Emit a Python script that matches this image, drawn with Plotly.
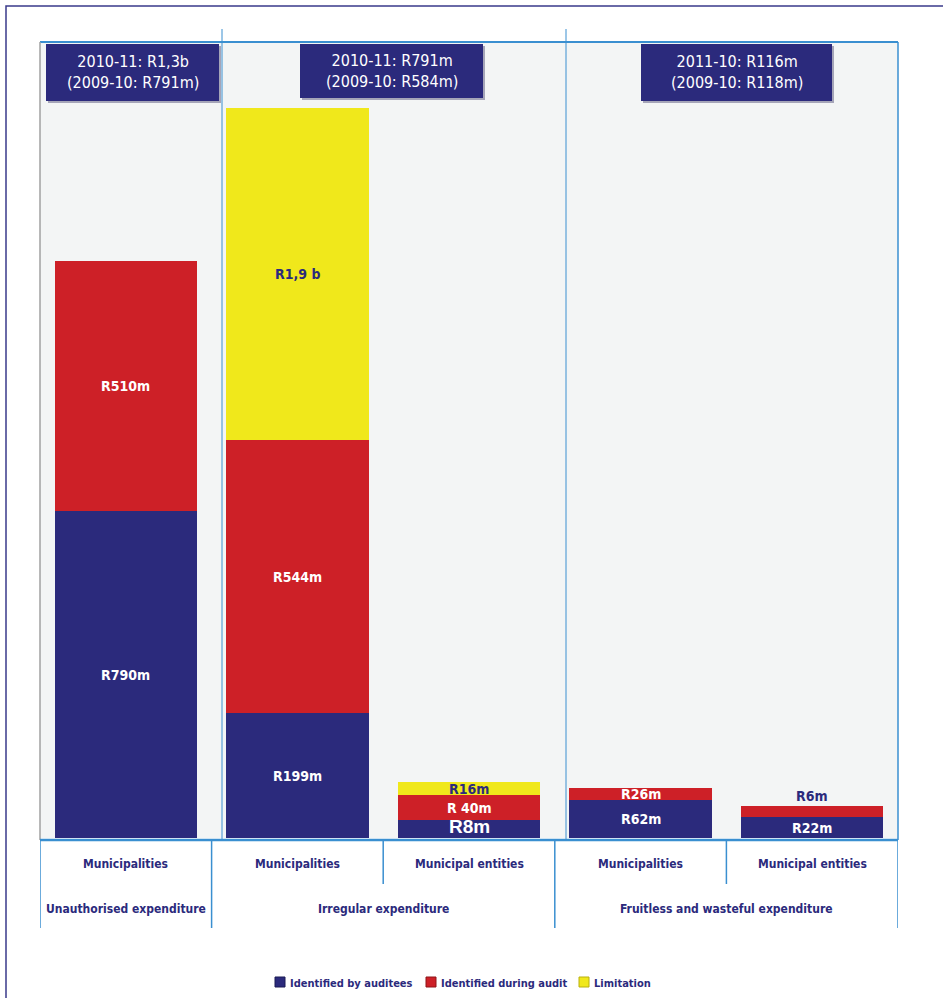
import plotly.graph_objects as go

# ---- data ----
group_labels = ["Unauthorised expenditure", "Irregular expenditure", "Fruitless and wasteful expenditure"]
group_centers = [0, 1.5, 3.5]
sub_labels = ["Municipalities", "Municipalities", "Municipal entities", "Municipalities", "Municipal entities"]
# segment heights as drawn in the picture (chart is not to scale)
auditees = [327, 125, 18, 38, 21]
during_audit = [250, 273, 25, 12, 11]
limitation = [0, 332, 13, 0, 0]
auditees_text = ["R790m", "R199m", "R8m", "R62m", "R22m"]
audit_text = ["R510m", "R544m", "R 40m", "R26m", "R6m"]
limitation_text = ["", "R1,9 b", "R16m", "", ""]
header_text = ["2010-11: R1,3b<br>(2009-10: R791m)",
               "2010-11: R791m<br>(2009-10: R584m)",
               "2011-10: R116m<br>(2009-10: R118m)"]
series_names = ["Identified by auditees", "Identified during audit", "Limitation"]

NAVY = "#2b2a7c"
RED = "#cd2027"
YELLOW = "#f0e81b"
LBLUE = "#3a8fd0"
FONT = "DejaVu Sans Condensed, sans-serif"
colors = [NAVY, RED, YELLOW]
edge_colors = ["#1b1a55", "#8e1418", "#b9b010"]

W, H = 943, 998
L, R, T, B = 40, 898, 42, 838


def px(x):
    return (x - L) / (R - L)


def py(y):
    return (B - y) / (B - T)


xs = list(range(len(sub_labels)))
fig = go.Figure()
for vals, name, col in zip([auditees, during_audit, limitation], series_names, colors):
    fig.add_bar(x=xs, y=vals, name=name, marker=dict(color=col, line=dict(width=0)),
                width=0.83, hoverinfo="skip", showlegend=False)

ann = []
# bar labels
for i in xs:
    b0 = 0
    segs = [(auditees[i], auditees_text[i], "white"),
            (during_audit[i], audit_text[i], "white"),
            (limitation[i], limitation_text[i], NAVY)]
    for k, (h, t, c) in enumerate(segs):
        if t:
            yv = b0 + h / 2
            col = c
            size = 14
            fam = FONT
            if k == 1 and h < 12:
                # label sits above a thin top segment
                yv = b0 + h + 10
                col = NAVY
            if t == "R8m":
                size = 19
                fam = "Liberation Sans, Arial, sans-serif"
                yv = b0 + h / 2 + 3
            ann.append(dict(x=i, y=yv, xref="x", yref="y", text="<b>%s</b>" % t, showarrow=False,
                            xanchor="center", yanchor="middle",
                            font=dict(color=col, size=size, family=fam)))
        b0 += h

# category labels
for i, t in enumerate(sub_labels):
    ann.append(dict(x=i, y=py(864), xref="x", yref="paper", text="<b>%s</b>" % t, showarrow=False,
                    xanchor="center", yanchor="middle",
                    font=dict(color=NAVY, size=12, family=FONT)))
for c, t in zip(group_centers, group_labels):
    ann.append(dict(x=c, y=py(909), xref="x", yref="paper", text="<b>%s</b>" % t, showarrow=False,
                    xanchor="center", yanchor="middle",
                    font=dict(color=NAVY, size=12, family=FONT)))

shapes = []
# header boxes
boxes = [(46, 44, 219, 101), (300, 44, 483, 98), (641, 44, 832, 101)]
for (x0, y0, x1, y1), t in zip(boxes, header_text):
    shapes.append(dict(type="rect", xref="paper", yref="paper", x0=px(x0 + 2), x1=px(x1 + 2),
                       y0=py(y1 + 2), y1=py(y0 + 2), fillcolor="#a5a5b8", line=dict(width=0), layer="above"))
    shapes.append(dict(type="rect", xref="paper", yref="paper", x0=px(x0), x1=px(x1),
                       y0=py(y1), y1=py(y0), fillcolor=NAVY, line=dict(width=0), layer="above"))
    ann.append(dict(x=px((x0 + x1) / 2), y=py((y0 + y1) / 2), xref="paper", yref="paper", text=t,
                    showarrow=False, xanchor="center", yanchor="middle",
                    font=dict(color="white", size=16, family=FONT)))

# custom legend (compact, like the original)
legend_x = [275, 426, 579]
for lx, name, col, ec in zip(legend_x, series_names, colors, edge_colors):
    shapes.append(dict(type="rect", xref="paper", yref="paper", x0=px(lx), x1=px(lx + 10),
                       y0=py(987), y1=py(977), fillcolor=col, line=dict(color=ec, width=1)))
    ann.append(dict(x=px(lx + 13), y=py(983), xref="paper", yref="paper", text="<b>%s</b>" % name,
                    showarrow=False, xanchor="left", yanchor="middle",
                    font=dict(color=NAVY, size=11, family=FONT)))

# plot frame
shapes.append(dict(type="line", xref="paper", yref="paper", x0=0, x1=1, y0=1, y1=1, line=dict(color=LBLUE, width=2)))
shapes.append(dict(type="line", xref="paper", yref="paper", x0=1, x1=1, y0=py(840), y1=1, line=dict(color=LBLUE, width=1.5)))
shapes.append(dict(type="line", xref="paper", yref="paper", x0=0, x1=0, y0=py(840), y1=1, line=dict(color="#a0a0a0", width=1.5)))
shapes.append(dict(type="line", xref="paper", yref="paper", x0=0, x1=1, y0=py(840), y1=py(840), line=dict(color=LBLUE, width=2.5)))
# upper dividers
for xv in [222, 566]:
    shapes.append(dict(type="line", xref="paper", yref="paper", x0=px(xv), x1=px(xv), y0=py(840), y1=py(29),
                       line=dict(color=LBLUE, width=1)))
# lower dividers
for bnd, full in [(-0.5, True), (0.5, True), (1.5, False), (2.5, True), (3.5, False), (4.5, True)]:
    shapes.append(dict(type="line", xref="x", yref="paper", x0=bnd, x1=bnd, y0=py(928 if full else 884), y1=py(840),
                       line=dict(color=LBLUE, width=1.5)))
# outer frame
shapes.append(dict(type="rect", xref="paper", yref="paper", x0=px(6), x1=px(960), y0=py(1010), y1=py(6),
                   line=dict(color="#3a3a8a", width=1.5), fillcolor="rgba(0,0,0,0)"))

fig.update_layout(
    barmode="stack", width=W, height=H, showlegend=False,
    margin=dict(l=L, r=W - R, t=T, b=H - B, autoexpand=False),
    paper_bgcolor="white", plot_bgcolor="#f3f5f5",
    xaxis=dict(range=[-0.5, 4.5], showticklabels=False, showgrid=False, zeroline=False, fixedrange=True),
    yaxis=dict(range=[0, 796], showticklabels=False, showgrid=False, zeroline=False, fixedrange=True),
    bargap=0.17,
    annotations=ann, shapes=shapes,
    font=dict(family=FONT),
)
fig.write_html("out.html", config={"displayModeBar": False},
               post_script="document.body.style.margin='0';document.body.style.overflow='hidden';")
